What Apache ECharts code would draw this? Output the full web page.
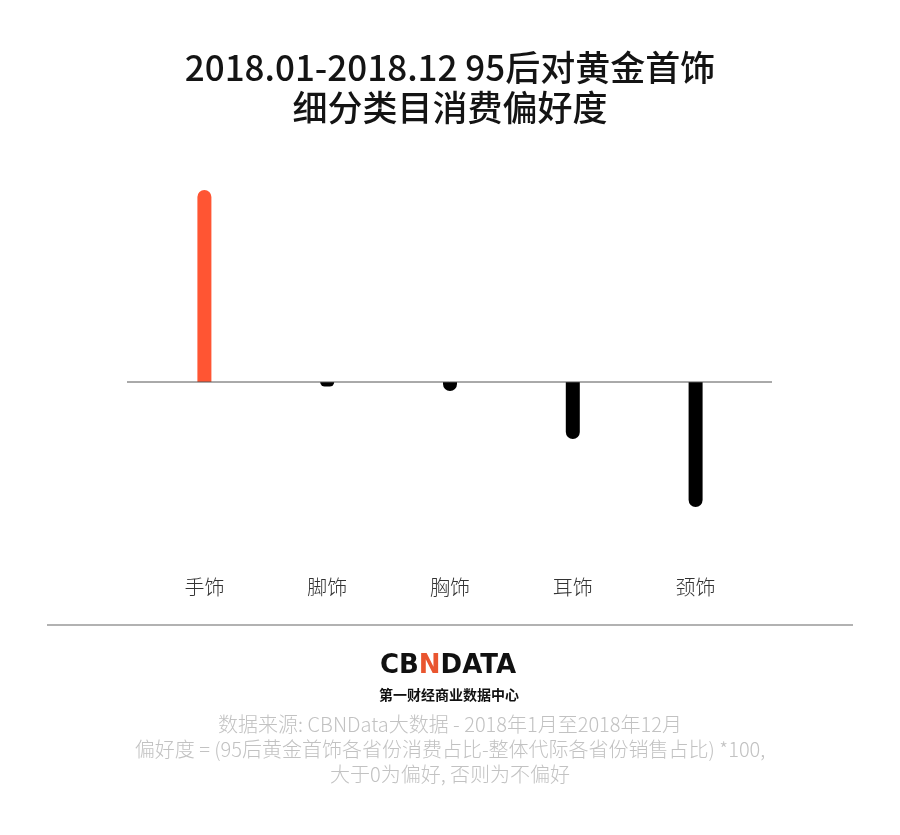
<!DOCTYPE html>
<html>
<head>
<meta charset="utf-8">
<script src="https://cdn.jsdelivr.net/npm/echarts@6/dist/echarts.min.js"></script>
<style>
html,body{margin:0;padding:0;background:#fff;}
#c{width:900px;height:835px;}
</style>
</head>
<body>
<div id="c"></div>
<script>
var categories = ['手饰', '脚饰', '胸饰', '耳饰', '颈饰'];
var values = [19.2, -0.45, -0.9, -5.7, -12.5];
var titleLines = ['2018.01-2018.12 95后对黄金首饰', '细分类目消费偏好度'];
var footerLines = [
  '数据来源: CBNData大数据 - 2018年1月至2018年12月',
  '偏好度 = (95后黄金首饰各省份消费占比-整体代际各省份销售占比) *100,',
  '大于0为偏好, 否则为不偏好'
];

var FONT = '"Noto Sans CJK SC", "Noto Sans", sans-serif';
var chart = echarts.init(document.getElementById('c'), null, {renderer: 'canvas'});

var barData = values.map(function (v) {
  return {
    value: v,
    itemStyle: {
      color: v >= 0 ? '#ff5533' : '#000000',
      borderRadius: v >= 0 ? [7, 7, 0, 0] : [0, 0, 7, 7]
    }
  };
});

var option = {
  backgroundColor: '#ffffff',
  animation: false,
  grid: { left: 143, right: 143, top: 182, height: 350 },
  xAxis: {
    type: 'category',
    data: categories,
    axisLine: { show: false, onZero: false },
    axisTick: { show: false },
    axisLabel: { margin: 45, fontSize: 20, fontWeight: 300, color: '#333', fontFamily: FONT }
  },
  yAxis: {
    type: 'value',
    min: -15,
    max: 20,
    show: false,
    splitLine: { show: false }
  },
  series: [{
    type: 'bar',
    data: barData,
    barWidth: 14
  }],
  graphic: []
};
chart.setOption(option);

var zeroY = chart.convertToPixel({yAxisIndex: 0}, 0);

var graphics = [
  { type: 'text', x: 450, y: 68, style: { text: titleLines[0], align: 'center', verticalAlign: 'middle', font: '500 35px ' + FONT, fill: '#141414' } },
  { type: 'text', x: 450, y: 108, style: { text: titleLines[1], align: 'center', verticalAlign: 'middle', font: '500 35px ' + FONT, fill: '#141414' } },
  { type: 'line', shape: { x1: 127, y1: zeroY, x2: 772, y2: zeroY }, style: { stroke: '#555', lineWidth: 1 }, z: 10 },
  { type: 'line', shape: { x1: 47, y1: 625, x2: 853, y2: 625 }, style: { stroke: '#999', lineWidth: 1.5 } },
  { type: 'text', x: 448, y: 666, style: {
      text: '{k|CB}{n|N}{k|DATA}',
      align: 'center', verticalAlign: 'middle',
      rich: {
        k: { font: 'bold 26px "DejaVu Sans", sans-serif', fill: '#111' },
        n: { font: 'bold 26px "DejaVu Sans", sans-serif', fill: '#e9552f' }
      }
  } },
  { type: 'text', x: 449, y: 695, style: { text: '第一财经商业数据中心', align: 'center', verticalAlign: 'middle', font: 'bold 14px ' + FONT, fill: '#111' } }
];
footerLines.forEach(function (t, i) {
  graphics.push({ type: 'text', x: 450, y: 724 + i * 25, style: { text: t, align: 'center', verticalAlign: 'middle', font: '300 20px ' + FONT, fill: '#c2c2c2' } });
});
chart.setOption({ graphic: graphics });
</script>
</body>
</html>
